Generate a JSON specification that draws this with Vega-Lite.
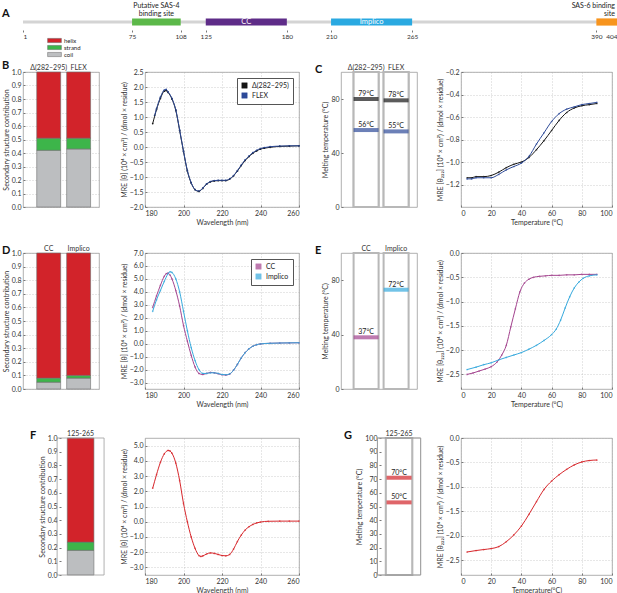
{
  "$schema": "https://vega.github.io/schema/vega-lite/v6.json",
  "padding": {"left": 1, "top": 2, "right": 0, "bottom": 0},
  "columns": 7,
  "align": "each",
  "bounds": "flush",
  "spacing": {"row": 46, "column": 0},
  "resolve": {"scale": {"color": "independent"}, "legend": {"color": "independent"}},
  "config": {
    "font": "Lato",
    "view": {"stroke": "#9c9c9c", "strokeWidth": 0.8},
    "title": {"fontSize": 11, "fontWeight": "bold", "anchor": "start", "frame": "group", "color": "#111", "offset": 0},
    "axis": {"labelFontSize": 7, "titleFontSize": 7, "titleFontWeight": "normal", "labelColor": "#333", "titleColor": "#333", "domain": false, "tickColor": "#777", "tickSize": -2, "labelPadding": 4, "titlePadding": 2, "labelOverlap": false, "gridDash": [1, 2], "gridColor": "#b0b0b0", "gridWidth": 0.6},
    "legend": {"labelFontSize": 7, "labelColor": "#222"}
  },
  "concat": [
    {
      "width": 76,
      "height": 8,
      "view": {"stroke": null},
      "title": {"text": "A", "dx": -21, "dy": 21},
      "data": {"values": [
        {"domain": "Putative SAS-4 binding site", "start": 75, "end": 108, "inside": "", "above": "Putative SAS-4\nbinding site"},
        {"domain": "CC", "start": 125, "end": 180, "inside": "CC", "above": ""},
        {"domain": "Implico", "start": 210, "end": 265, "inside": "Implico", "above": ""},
        {"domain": "SAS-6 binding site", "start": 390, "end": 404, "inside": "", "above": "SAS-6 binding\nsite"}
      ]},
      "encoding": {
        "x": {"field": "start", "type": "quantitative", "scale": {"domain": [1, 404], "range": [0, 594], "nice": false, "zero": false},
          "axis": {"title": null, "values": [1, 75, 108, 125, 180, 210, 265, 390, 404], "grid": false, "tickSize": 2, "offset": 4, "labelPadding": 1, "labelFontSize": 6.5, "labelOverlap": false, "labelFlush": true}}
      },
      "layer": [
        {"data": {"values": [{"start": 1, "end": 404}]}, "mark": {"type": "rule", "color": "#d4d4d4", "strokeWidth": 3}, "encoding": {"x2": {"field": "end"}}},
        {"mark": {"type": "bar"}, "encoding": {"x2": {"field": "end"},
          "color": {"field": "domain", "type": "nominal", "scale": {"domain": ["Putative SAS-4 binding site", "CC", "Implico", "SAS-6 binding site"], "range": ["#5cb849", "#5e2c88", "#2aa9e1", "#f7941d"]}, "legend": null}}},
        {"transform": [{"filter": {"field": "inside", "oneOf": ["CC", "Implico"]}}, {"fold": ["start", "end"], "as": ["edge", "residue"]}, {"aggregate": [{"op": "mean", "field": "residue", "as": "mid"}], "groupby": ["inside"]}],
          "mark": {"type": "text", "color": "white", "fontSize": 7.5},
          "encoding": {"x": {"field": "mid", "type": "quantitative"}, "text": {"field": "inside"}}},
        {"transform": [{"filter": {"field": "domain", "equal": "Putative SAS-4 binding site"}}, {"fold": ["start", "end"], "as": ["edge", "residue"]}, {"aggregate": [{"op": "mean", "field": "residue", "as": "mid"}], "groupby": ["above"]}],
          "mark": {"type": "text", "fontSize": 7, "lineBreak": "\n", "lineHeight": 8, "baseline": "top", "dy": -20, "color": "#222"},
          "encoding": {"x": {"field": "mid", "type": "quantitative"}, "text": {"field": "above"}}},
        {"transform": [{"filter": {"field": "domain", "equal": "SAS-6 binding site"}}],
          "mark": {"type": "text", "fontSize": 7, "lineBreak": "\n", "lineHeight": 8, "baseline": "top", "dy": -20, "dx": -2, "align": "right", "color": "#222"},
          "encoding": {"x": {"field": "end", "type": "quantitative"}, "text": {"field": "above"}}}
      ]
    },
    {"width": 1, "height": 8, "view": {"stroke": null}, "data": {"values": [{}]}, "mark": "text", "encoding": {"text": {"value": ""}}},
    {"width": 1, "height": 8, "view": {"stroke": null}, "data": {"values": [{}]}, "mark": "text", "encoding": {"text": {"value": ""}}},
    {"width": 1, "height": 8, "view": {"stroke": null}, "data": {"values": [{}]}, "mark": "text", "encoding": {"text": {"value": ""}}},
    {"width": 1, "height": 8, "view": {"stroke": null}, "data": {"values": [{}]}, "mark": "text", "encoding": {"text": {"value": ""}}},
    {"width": 1, "height": 8, "view": {"stroke": null}, "data": {"values": [{}]}, "mark": "text", "encoding": {"text": {"value": ""}}},
    {"width": 1, "height": 8, "view": {"stroke": null}, "data": {"values": [{}]}, "mark": "text", "encoding": {"text": {"value": ""}}},

    {
      "width": 76,
      "height": 135,
      "title": {"text": "B", "dx": -21, "dy": 38},
      "data": {"values": [
        {"construct": "Δ(282–295)", "structure": "coil", "fraction": 0.42, "level": 1},
        {"construct": "Δ(282–295)", "structure": "strand", "fraction": 0.09, "level": 2},
        {"construct": "Δ(282–295)", "structure": "helix", "fraction": 0.49, "level": 3},
        {"construct": "FLEX", "structure": "coil", "fraction": 0.43, "level": 1},
        {"construct": "FLEX", "structure": "strand", "fraction": 0.08, "level": 2},
        {"construct": "FLEX", "structure": "helix", "fraction": 0.49, "level": 3}
      ]},
      "mark": {"type": "bar", "stroke": "#6e6e6e", "strokeWidth": 0.6},
      "encoding": {
        "x": {"field": "construct", "type": "nominal", "sort": ["Δ(282–295)", "FLEX"], "scale": {"paddingInner": 0.2, "paddingOuter": 0.37, "align": 0.62},
          "axis": {"orient": "top", "title": null, "labelAngle": 0, "ticks": false, "labelPadding": 2, "grid": false}},
        "y": {"field": "fraction", "type": "quantitative", "stack": "zero", "scale": {"domain": [0, 1], "nice": false},
          "axis": {"title": "Secondary structure contribution", "values": [0, 0.1, 0.2, 0.3, 0.4, 0.5, 0.6, 0.7, 0.8, 0.9, 1], "format": ".1f"}},
        "color": {"field": "structure", "type": "nominal", "scale": {"domain": ["helix", "strand", "coil"], "range": ["#d2232a", "#3db54a", "#bcbec0"]},
          "legend": {"orient": "none", "legendX": 28, "legendY": -35, "title": null, "symbolType": "M-2.3,-0.7H2.3V0.7H-2.3Z", "symbolSize": 36, "symbolStrokeColor": "#666", "symbolStrokeWidth": 0.5, "labelFontSize": 6, "labelOffset": 6, "rowPadding": 0, "padding": 0}},
        "order": {"field": "level", "type": "quantitative", "sort": "ascending"}
      }
    },
    {"width": 42, "height": 135, "view": {"stroke": null}, "data": {"values": [{}]}, "mark": "text", "encoding": {"text": {"value": ""}}},
    {
      "width": 154,
      "height": 135,
      "data": {"values": [
        {"wl": 184, "mre": 0.78, "construct": "Δ(282–295)"}, {"wl": 186, "mre": 1.25, "construct": "Δ(282–295)"}, {"wl": 188, "mre": 1.62, "construct": "Δ(282–295)"}, {"wl": 190, "mre": 1.86, "construct": "Δ(282–295)"}, {"wl": 191, "mre": 1.88, "construct": "Δ(282–295)"}, {"wl": 192, "mre": 1.82, "construct": "Δ(282–295)"}, {"wl": 194, "mre": 1.6, "construct": "Δ(282–295)"}, {"wl": 196, "mre": 1.22, "construct": "Δ(282–295)"}, {"wl": 198, "mre": 0.55, "construct": "Δ(282–295)"}, {"wl": 200, "mre": -0.15, "construct": "Δ(282–295)"}, {"wl": 202, "mre": -0.8, "construct": "Δ(282–295)"}, {"wl": 204, "mre": -1.2, "construct": "Δ(282–295)"}, {"wl": 206, "mre": -1.42, "construct": "Δ(282–295)"}, {"wl": 208, "mre": -1.48, "construct": "Δ(282–295)"}, {"wl": 210, "mre": -1.38, "construct": "Δ(282–295)"}, {"wl": 212, "mre": -1.24, "construct": "Δ(282–295)"}, {"wl": 214, "mre": -1.16, "construct": "Δ(282–295)"}, {"wl": 216, "mre": -1.13, "construct": "Δ(282–295)"}, {"wl": 218, "mre": -1.12, "construct": "Δ(282–295)"}, {"wl": 220, "mre": -1.12, "construct": "Δ(282–295)"}, {"wl": 222, "mre": -1.12, "construct": "Δ(282–295)"}, {"wl": 224, "mre": -1.07, "construct": "Δ(282–295)"}, {"wl": 226, "mre": -0.96, "construct": "Δ(282–295)"}, {"wl": 228, "mre": -0.8, "construct": "Δ(282–295)"}, {"wl": 230, "mre": -0.62, "construct": "Δ(282–295)"}, {"wl": 232, "mre": -0.45, "construct": "Δ(282–295)"}, {"wl": 234, "mre": -0.32, "construct": "Δ(282–295)"}, {"wl": 236, "mre": -0.21, "construct": "Δ(282–295)"}, {"wl": 238, "mre": -0.13, "construct": "Δ(282–295)"}, {"wl": 240, "mre": -0.07, "construct": "Δ(282–295)"}, {"wl": 242, "mre": -0.04, "construct": "Δ(282–295)"}, {"wl": 245, "mre": -0.01, "construct": "Δ(282–295)"}, {"wl": 250, "mre": 0.02, "construct": "Δ(282–295)"}, {"wl": 255, "mre": 0.03, "construct": "Δ(282–295)"}, {"wl": 260, "mre": 0.04, "construct": "Δ(282–295)"},
        {"wl": 185, "mre": 1.05, "construct": "FLEX"}, {"wl": 186, "mre": 1.28, "construct": "FLEX"}, {"wl": 188, "mre": 1.66, "construct": "FLEX"}, {"wl": 190, "mre": 1.9, "construct": "FLEX"}, {"wl": 191, "mre": 1.92, "construct": "FLEX"}, {"wl": 192, "mre": 1.84, "construct": "FLEX"}, {"wl": 194, "mre": 1.62, "construct": "FLEX"}, {"wl": 196, "mre": 1.24, "construct": "FLEX"}, {"wl": 198, "mre": 0.57, "construct": "FLEX"}, {"wl": 200, "mre": -0.13, "construct": "FLEX"}, {"wl": 202, "mre": -0.78, "construct": "FLEX"}, {"wl": 204, "mre": -1.19, "construct": "FLEX"}, {"wl": 206, "mre": -1.42, "construct": "FLEX"}, {"wl": 208, "mre": -1.47, "construct": "FLEX"}, {"wl": 210, "mre": -1.37, "construct": "FLEX"}, {"wl": 212, "mre": -1.23, "construct": "FLEX"}, {"wl": 214, "mre": -1.15, "construct": "FLEX"}, {"wl": 216, "mre": -1.12, "construct": "FLEX"}, {"wl": 218, "mre": -1.11, "construct": "FLEX"}, {"wl": 220, "mre": -1.11, "construct": "FLEX"}, {"wl": 222, "mre": -1.11, "construct": "FLEX"}, {"wl": 224, "mre": -1.06, "construct": "FLEX"}, {"wl": 226, "mre": -0.95, "construct": "FLEX"}, {"wl": 228, "mre": -0.79, "construct": "FLEX"}, {"wl": 230, "mre": -0.6, "construct": "FLEX"}, {"wl": 232, "mre": -0.43, "construct": "FLEX"}, {"wl": 234, "mre": -0.3, "construct": "FLEX"}, {"wl": 236, "mre": -0.19, "construct": "FLEX"}, {"wl": 238, "mre": -0.11, "construct": "FLEX"}, {"wl": 240, "mre": -0.05, "construct": "FLEX"}, {"wl": 242, "mre": -0.02, "construct": "FLEX"}, {"wl": 245, "mre": 0.01, "construct": "FLEX"}, {"wl": 250, "mre": 0.03, "construct": "FLEX"}, {"wl": 255, "mre": 0.04, "construct": "FLEX"}, {"wl": 260, "mre": 0.04, "construct": "FLEX"}
      ]},
      "encoding": {
        "x": {"field": "wl", "type": "quantitative", "scale": {"domain": [180, 260], "nice": false, "zero": false}, "axis": {"title": "Wavelength (nm)", "values": [180, 200, 220, 240, 260]}},
        "y": {"field": "mre", "type": "quantitative", "scale": {"domain": [-2, 2.5], "nice": false, "zero": false}, "axis": {"title": "MRE [θ] (10⁴ × cm²) / (dmol × residue)", "values": [-2, -1.5, -1, -0.5, 0, 0.5, 1, 1.5, 2, 2.5], "format": ".1f"}},
        "color": {"field": "construct", "type": "nominal", "scale": {"domain": ["Δ(282–295)", "FLEX"], "range": ["#151515", "#2d4a98"]},
          "legend": {"orient": "top-right", "title": null, "offset": 6, "padding": 4, "strokeColor": "#555", "fillColor": "white", "symbolType": "square", "symbolSize": 30, "symbolStrokeColor": "#333", "symbolStrokeWidth": 0.4, "rowPadding": 1, "labelFontSize": 7}}
      },
      "layer": [
        {"mark": {"type": "point", "filled": true, "size": 3, "opacity": 1}},
        {"mark": {"type": "line", "strokeWidth": 1, "interpolate": "monotone"}}
      ]
    },
    {"width": 42, "height": 135, "view": {"stroke": null}, "data": {"values": [{}]}, "mark": "text", "encoding": {"text": {"value": ""}}},
    {
      "width": 76,
      "height": 135,
      "title": {"text": "C", "dx": -26, "dy": 16},
      "data": {"values": [
        {"construct": "Δ(282–295)", "transition": "upper", "tm": 80, "label": "79°C"},
        {"construct": "Δ(282–295)", "transition": "lower", "tm": 57, "label": "56°C"},
        {"construct": "FLEX", "transition": "upper", "tm": 79, "label": "78°C"},
        {"construct": "FLEX", "transition": "lower", "tm": 56, "label": "55°C"}
      ]},
      "encoding": {
        "x": {"field": "construct", "type": "nominal", "sort": ["Δ(282–295)", "FLEX"], "scale": {"paddingInner": 0.1667, "paddingOuter": 0.35, "align": 0.6},
          "axis": {"orient": "top", "title": null, "labelAngle": 0, "ticks": false, "labelPadding": 2, "grid": false}}
      },
      "layer": [
        {"mark": {"type": "bar", "fill": "white", "stroke": "#b8b8b8", "strokeWidth": 2},
          "encoding": {"y": {"datum": 100, "type": "quantitative", "scale": {"domain": [0, 100], "nice": false},
            "axis": {"title": "Melting temperature (°C)", "values": [0, 10, 20, 30, 40, 50, 60, 70, 80, 90, 100]}}}},
        {"mark": {"type": "tick", "thickness": 4, "size": 25},
          "encoding": {"y": {"field": "tm", "type": "quantitative"}, "color": {"field": "transition", "type": "nominal", "scale": {"domain": ["upper", "lower"], "range": ["#151515", "#2d4a98"]}, "legend": null}}},
        {"mark": {"type": "text", "fontSize": 7, "baseline": "bottom", "dy": -2, "color": "#222"},
          "encoding": {"y": {"field": "tm", "type": "quantitative"}, "text": {"field": "label"}}}
      ]
    },
    {"width": 41, "height": 135, "view": {"stroke": null}, "data": {"values": [{}]}, "mark": "text", "encoding": {"text": {"value": ""}}},
    {
      "width": 151,
      "height": 135,
      "data": {"values": [
        {"t": 4, "mre": -1.14, "construct": "Δ(282–295)"}, {"t": 7, "mre": -1.14, "construct": "Δ(282–295)"}, {"t": 10, "mre": -1.13, "construct": "Δ(282–295)"}, {"t": 15, "mre": -1.13, "construct": "Δ(282–295)"}, {"t": 20, "mre": -1.12, "construct": "Δ(282–295)"}, {"t": 25, "mre": -1.09, "construct": "Δ(282–295)"}, {"t": 30, "mre": -1.05, "construct": "Δ(282–295)"}, {"t": 35, "mre": -1.02, "construct": "Δ(282–295)"}, {"t": 40, "mre": -1.0, "construct": "Δ(282–295)"}, {"t": 45, "mre": -0.96, "construct": "Δ(282–295)"}, {"t": 50, "mre": -0.89, "construct": "Δ(282–295)"}, {"t": 55, "mre": -0.81, "construct": "Δ(282–295)"}, {"t": 60, "mre": -0.72, "construct": "Δ(282–295)"}, {"t": 65, "mre": -0.63, "construct": "Δ(282–295)"}, {"t": 70, "mre": -0.56, "construct": "Δ(282–295)"}, {"t": 75, "mre": -0.52, "construct": "Δ(282–295)"}, {"t": 80, "mre": -0.5, "construct": "Δ(282–295)"}, {"t": 85, "mre": -0.49, "construct": "Δ(282–295)"}, {"t": 90, "mre": -0.48, "construct": "Δ(282–295)"},
        {"t": 4, "mre": -1.15, "construct": "FLEX"}, {"t": 7, "mre": -1.15, "construct": "FLEX"}, {"t": 10, "mre": -1.14, "construct": "FLEX"}, {"t": 15, "mre": -1.14, "construct": "FLEX"}, {"t": 20, "mre": -1.14, "construct": "FLEX"}, {"t": 25, "mre": -1.11, "construct": "FLEX"}, {"t": 30, "mre": -1.07, "construct": "FLEX"}, {"t": 35, "mre": -1.04, "construct": "FLEX"}, {"t": 40, "mre": -1.01, "construct": "FLEX"}, {"t": 45, "mre": -0.95, "construct": "FLEX"}, {"t": 50, "mre": -0.84, "construct": "FLEX"}, {"t": 55, "mre": -0.74, "construct": "FLEX"}, {"t": 60, "mre": -0.64, "construct": "FLEX"}, {"t": 65, "mre": -0.57, "construct": "FLEX"}, {"t": 70, "mre": -0.53, "construct": "FLEX"}, {"t": 75, "mre": -0.51, "construct": "FLEX"}, {"t": 80, "mre": -0.49, "construct": "FLEX"}, {"t": 85, "mre": -0.48, "construct": "FLEX"}, {"t": 90, "mre": -0.47, "construct": "FLEX"}
      ]},
      "encoding": {
        "x": {"field": "t", "type": "quantitative", "scale": {"domain": [0, 100], "nice": false}, "axis": {"title": "Temperature (°C)", "values": [0, 20, 40, 60, 80, 100]}},
        "y": {"field": "mre", "type": "quantitative", "scale": {"domain": [-1.4, -0.2], "nice": false, "zero": false}, "axis": {"title": "MRE [θ₂₂₂] (10⁴ × cm²) / (dmol × residue)", "values": [-1.2, -1, -0.8, -0.6, -0.4, -0.2], "format": ".1f"}},
        "color": {"field": "construct", "type": "nominal", "scale": {"domain": ["Δ(282–295)", "FLEX"], "range": ["#151515", "#2d4a98"]}, "legend": null}
      },
      "layer": [
        {"mark": {"type": "point", "filled": true, "size": 3}},
        {"mark": {"type": "line", "strokeWidth": 1, "interpolate": "monotone"}}
      ]
    },

    {
      "width": 76,
      "height": 136,
      "title": {"text": "D", "dx": -21, "dy": 16},
      "data": {"values": [
        {"construct": "CC", "structure": "coil", "fraction": 0.05, "level": 1},
        {"construct": "CC", "structure": "strand", "fraction": 0.03, "level": 2},
        {"construct": "CC", "structure": "helix", "fraction": 0.92, "level": 3},
        {"construct": "Implico", "structure": "coil", "fraction": 0.08, "level": 1},
        {"construct": "Implico", "structure": "strand", "fraction": 0.02, "level": 2},
        {"construct": "Implico", "structure": "helix", "fraction": 0.9, "level": 3}
      ]},
      "mark": {"type": "bar", "stroke": "#6e6e6e", "strokeWidth": 0.6},
      "encoding": {
        "x": {"field": "construct", "type": "nominal", "sort": ["CC", "Implico"], "scale": {"paddingInner": 0.2, "paddingOuter": 0.37, "align": 0.62},
          "axis": {"orient": "top", "title": null, "labelAngle": 0, "ticks": false, "labelPadding": 2, "grid": false}},
        "y": {"field": "fraction", "type": "quantitative", "stack": "zero", "scale": {"domain": [0, 1], "nice": false},
          "axis": {"title": "Secondary structure contribution", "values": [0, 0.1, 0.2, 0.3, 0.4, 0.5, 0.6, 0.7, 0.8, 0.9, 1], "format": ".1f"}},
        "color": {"field": "structure", "type": "nominal", "scale": {"domain": ["helix", "strand", "coil"], "range": ["#d2232a", "#3db54a", "#bcbec0"]}, "legend": null},
        "order": {"field": "level", "type": "quantitative", "sort": "ascending"}
      }
    },
    {"width": 42, "height": 139, "view": {"stroke": null}, "data": {"values": [{}]}, "mark": "text", "encoding": {"text": {"value": ""}}},
    {
      "width": 154,
      "height": 136,
      "data": {"values": [
        {"wl": 184, "mre": 2.8, "construct": "CC"}, {"wl": 186, "mre": 3.7, "construct": "CC"}, {"wl": 188, "mre": 4.5, "construct": "CC"}, {"wl": 190, "mre": 5.2, "construct": "CC"}, {"wl": 191, "mre": 5.4, "construct": "CC"}, {"wl": 192, "mre": 5.45, "construct": "CC"}, {"wl": 193, "mre": 5.3, "construct": "CC"}, {"wl": 194, "mre": 5.0, "construct": "CC"}, {"wl": 196, "mre": 4.1, "construct": "CC"}, {"wl": 198, "mre": 2.9, "construct": "CC"}, {"wl": 200, "mre": 1.4, "construct": "CC"}, {"wl": 202, "mre": 0.2, "construct": "CC"}, {"wl": 204, "mre": -0.9, "construct": "CC"}, {"wl": 206, "mre": -1.8, "construct": "CC"}, {"wl": 208, "mre": -2.3, "construct": "CC"}, {"wl": 210, "mre": -2.38, "construct": "CC"}, {"wl": 212, "mre": -2.3, "construct": "CC"}, {"wl": 214, "mre": -2.22, "construct": "CC"}, {"wl": 216, "mre": -2.25, "construct": "CC"}, {"wl": 218, "mre": -2.32, "construct": "CC"}, {"wl": 220, "mre": -2.4, "construct": "CC"}, {"wl": 222, "mre": -2.42, "construct": "CC"}, {"wl": 224, "mre": -2.35, "construct": "CC"}, {"wl": 226, "mre": -2.05, "construct": "CC"}, {"wl": 228, "mre": -1.6, "construct": "CC"}, {"wl": 230, "mre": -1.1, "construct": "CC"}, {"wl": 232, "mre": -0.7, "construct": "CC"}, {"wl": 234, "mre": -0.4, "construct": "CC"}, {"wl": 236, "mre": -0.2, "construct": "CC"}, {"wl": 238, "mre": -0.08, "construct": "CC"}, {"wl": 240, "mre": -0.02, "construct": "CC"}, {"wl": 245, "mre": 0.03, "construct": "CC"}, {"wl": 250, "mre": 0.05, "construct": "CC"}, {"wl": 255, "mre": 0.06, "construct": "CC"}, {"wl": 260, "mre": 0.07, "construct": "CC"},
        {"wl": 184, "mre": 2.5, "construct": "Implico"}, {"wl": 186, "mre": 3.4, "construct": "Implico"}, {"wl": 188, "mre": 4.1, "construct": "Implico"}, {"wl": 190, "mre": 4.8, "construct": "Implico"}, {"wl": 192, "mre": 5.4, "construct": "Implico"}, {"wl": 193, "mre": 5.55, "construct": "Implico"}, {"wl": 194, "mre": 5.5, "construct": "Implico"}, {"wl": 196, "mre": 5.0, "construct": "Implico"}, {"wl": 198, "mre": 4.0, "construct": "Implico"}, {"wl": 200, "mre": 2.5, "construct": "Implico"}, {"wl": 202, "mre": 1.0, "construct": "Implico"}, {"wl": 204, "mre": -0.3, "construct": "Implico"}, {"wl": 206, "mre": -1.3, "construct": "Implico"}, {"wl": 208, "mre": -2.0, "construct": "Implico"}, {"wl": 210, "mre": -2.3, "construct": "Implico"}, {"wl": 212, "mre": -2.3, "construct": "Implico"}, {"wl": 214, "mre": -2.25, "construct": "Implico"}, {"wl": 216, "mre": -2.25, "construct": "Implico"}, {"wl": 218, "mre": -2.3, "construct": "Implico"}, {"wl": 220, "mre": -2.38, "construct": "Implico"}, {"wl": 222, "mre": -2.4, "construct": "Implico"}, {"wl": 224, "mre": -2.33, "construct": "Implico"}, {"wl": 226, "mre": -2.05, "construct": "Implico"}, {"wl": 228, "mre": -1.6, "construct": "Implico"}, {"wl": 230, "mre": -1.1, "construct": "Implico"}, {"wl": 232, "mre": -0.7, "construct": "Implico"}, {"wl": 234, "mre": -0.4, "construct": "Implico"}, {"wl": 236, "mre": -0.2, "construct": "Implico"}, {"wl": 238, "mre": -0.08, "construct": "Implico"}, {"wl": 240, "mre": -0.02, "construct": "Implico"}, {"wl": 245, "mre": 0.03, "construct": "Implico"}, {"wl": 250, "mre": 0.05, "construct": "Implico"}, {"wl": 255, "mre": 0.06, "construct": "Implico"}, {"wl": 260, "mre": 0.07, "construct": "Implico"}
      ]},
      "encoding": {
        "x": {"field": "wl", "type": "quantitative", "scale": {"domain": [180, 260], "nice": false, "zero": false}, "axis": {"title": "Wavelength (nm)", "values": [180, 200, 220, 240, 260]}},
        "y": {"field": "mre", "type": "quantitative", "scale": {"domain": [-3.5, 7], "nice": false, "zero": false}, "axis": {"title": "MRE [θ] (10⁴ × cm²) / (dmol × residue)", "values": [-3, -2, -1, 0, 1, 2, 3, 4, 5, 6, 7], "format": ".1f"}},
        "color": {"field": "construct", "type": "nominal", "scale": {"domain": ["CC", "Implico"], "range": ["#a3438e", "#36a9dd"]},
          "legend": {"orient": "top-right", "title": null, "offset": 6, "padding": 4, "strokeColor": "#555", "fillColor": "white", "symbolType": "square", "symbolSize": 30, "symbolStrokeColor": "#333", "symbolStrokeWidth": 0.4, "rowPadding": 1, "labelFontSize": 7}}
      },
      "layer": [
        {"mark": {"type": "point", "filled": true, "size": 3}},
        {"mark": {"type": "line", "strokeWidth": 1, "interpolate": "monotone"}}
      ]
    },
    {"width": 42, "height": 139, "view": {"stroke": null}, "data": {"values": [{}]}, "mark": "text", "encoding": {"text": {"value": ""}}},
    {
      "width": 76,
      "height": 136,
      "title": {"text": "E", "dx": -26, "dy": 16},
      "data": {"values": [
        {"construct": "CC", "tm": 38, "label": "37°C"},
        {"construct": "Implico", "tm": 73, "label": "72°C"}
      ]},
      "encoding": {
        "x": {"field": "construct", "type": "nominal", "sort": ["CC", "Implico"], "scale": {"paddingInner": 0.1667, "paddingOuter": 0.35, "align": 0.6},
          "axis": {"orient": "top", "title": null, "labelAngle": 0, "ticks": false, "labelPadding": 2, "grid": false}}
      },
      "layer": [
        {"mark": {"type": "bar", "fill": "white", "stroke": "#b8b8b8", "strokeWidth": 2},
          "encoding": {"y": {"datum": 100, "type": "quantitative", "scale": {"domain": [0, 100], "nice": false},
            "axis": {"title": "Melting temperature (°C)", "values": [0, 10, 20, 30, 40, 50, 60, 70, 80, 90, 100]}}}},
        {"mark": {"type": "tick", "thickness": 4, "size": 25},
          "encoding": {"y": {"field": "tm", "type": "quantitative"}, "color": {"field": "construct", "type": "nominal", "scale": {"domain": ["CC", "Implico"], "range": ["#a3438e", "#36a9dd"]}, "legend": null}}},
        {"mark": {"type": "text", "fontSize": 7, "baseline": "bottom", "dy": -2, "color": "#222"},
          "encoding": {"y": {"field": "tm", "type": "quantitative"}, "text": {"field": "label"}}}
      ]
    },
    {"width": 41, "height": 139, "view": {"stroke": null}, "data": {"values": [{}]}, "mark": "text", "encoding": {"text": {"value": ""}}},
    {
      "width": 151,
      "height": 136,
      "data": {"values": [
        {"t": 4, "mre": -2.5, "construct": "CC"}, {"t": 8, "mre": -2.47, "construct": "CC"}, {"t": 12, "mre": -2.43, "construct": "CC"}, {"t": 16, "mre": -2.39, "construct": "CC"}, {"t": 20, "mre": -2.34, "construct": "CC"}, {"t": 24, "mre": -2.24, "construct": "CC"}, {"t": 27, "mre": -2.1, "construct": "CC"}, {"t": 30, "mre": -1.9, "construct": "CC"}, {"t": 33, "mre": -1.52, "construct": "CC"}, {"t": 36, "mre": -1.15, "construct": "CC"}, {"t": 39, "mre": -0.8, "construct": "CC"}, {"t": 42, "mre": -0.62, "construct": "CC"}, {"t": 45, "mre": -0.54, "construct": "CC"}, {"t": 48, "mre": -0.5, "construct": "CC"}, {"t": 52, "mre": -0.48, "construct": "CC"}, {"t": 56, "mre": -0.47, "construct": "CC"}, {"t": 60, "mre": -0.46, "construct": "CC"}, {"t": 65, "mre": -0.46, "construct": "CC"}, {"t": 70, "mre": -0.45, "construct": "CC"}, {"t": 75, "mre": -0.45, "construct": "CC"}, {"t": 80, "mre": -0.44, "construct": "CC"}, {"t": 85, "mre": -0.44, "construct": "CC"}, {"t": 90, "mre": -0.44, "construct": "CC"},
        {"t": 4, "mre": -2.4, "construct": "Implico"}, {"t": 10, "mre": -2.35, "construct": "Implico"}, {"t": 15, "mre": -2.3, "construct": "Implico"}, {"t": 20, "mre": -2.26, "construct": "Implico"}, {"t": 25, "mre": -2.2, "construct": "Implico"}, {"t": 30, "mre": -2.15, "construct": "Implico"}, {"t": 35, "mre": -2.1, "construct": "Implico"}, {"t": 40, "mre": -2.05, "construct": "Implico"}, {"t": 45, "mre": -1.98, "construct": "Implico"}, {"t": 50, "mre": -1.9, "construct": "Implico"}, {"t": 55, "mre": -1.8, "construct": "Implico"}, {"t": 60, "mre": -1.68, "construct": "Implico"}, {"t": 63, "mre": -1.57, "construct": "Implico"}, {"t": 66, "mre": -1.38, "construct": "Implico"}, {"t": 69, "mre": -1.13, "construct": "Implico"}, {"t": 72, "mre": -0.9, "construct": "Implico"}, {"t": 75, "mre": -0.72, "construct": "Implico"}, {"t": 78, "mre": -0.6, "construct": "Implico"}, {"t": 81, "mre": -0.52, "construct": "Implico"}, {"t": 85, "mre": -0.47, "construct": "Implico"}, {"t": 90, "mre": -0.45, "construct": "Implico"}
      ]},
      "encoding": {
        "x": {"field": "t", "type": "quantitative", "scale": {"domain": [0, 100], "nice": false}, "axis": {"title": "Temperature (°C)", "values": [0, 20, 40, 60, 80, 100]}},
        "y": {"field": "mre", "type": "quantitative", "scale": {"domain": [-2.8, 0], "nice": false, "zero": false}, "axis": {"title": "MRE [θ₂₂₂] (10⁴ × cm²) / (dmol × residue)", "values": [-2.5, -2, -1.5, -1, -0.5, 0], "format": ".1f"}},
        "color": {"field": "construct", "type": "nominal", "scale": {"domain": ["CC", "Implico"], "range": ["#a3438e", "#36a9dd"]}, "legend": null}
      },
      "layer": [
        {"mark": {"type": "point", "filled": true, "size": 3}},
        {"mark": {"type": "line", "strokeWidth": 1, "interpolate": "monotone"}}
      ]
    },

    {
      "width": 80,
      "height": 137,
      "view": {"stroke": null},
      "title": {"text": "F", "dx": 7, "dy": 16},
      "data": {"values": [
        {"construct": "125-265", "structure": "coil", "fraction": 0.18, "level": 1},
        {"construct": "125-265", "structure": "strand", "fraction": 0.06, "level": 2},
        {"construct": "125-265", "structure": "helix", "fraction": 0.76, "level": 3}
      ]},
      "encoding": {
        "x": {"field": "construct", "type": "nominal", "scale": {"paddingInner": 0, "paddingOuter": 1.1, "align": 0.83},
          "axis": {"orient": "top", "title": null, "labelAngle": 0, "ticks": false, "labelPadding": 2, "grid": false}}
      },
      "layer": [
        {"mark": {"type": "bar", "stroke": "#6e6e6e", "strokeWidth": 0.6},
          "encoding": {
            "y": {"field": "fraction", "type": "quantitative", "stack": "zero", "scale": {"domain": [0, 1], "nice": false},
              "axis": {"title": "Secondary structure contribution", "values": [0, 0.1, 0.2, 0.3, 0.4, 0.5, 0.6, 0.7, 0.8, 0.9, 1], "format": ".1f", "offset": -36, "grid": false, "labelOverlap": false}},
            "color": {"field": "structure", "type": "nominal", "scale": {"domain": ["helix", "strand", "coil"], "range": ["#d2232a", "#3db54a", "#bcbec0"]}, "legend": null},
            "order": {"field": "level", "type": "quantitative", "sort": "ascending"}
          }},
        {"transform": [{"filter": {"field": "level", "equal": 3}}],
          "mark": {"type": "bar", "filled": false, "stroke": "#9c9c9c", "strokeWidth": 0.8, "width": {"band": 1.76}},
          "encoding": {"y": {"datum": 1, "type": "quantitative",
            "axis": {"title": "Secondary structure contribution", "values": [0, 0.1, 0.2, 0.3, 0.4, 0.5, 0.6, 0.7, 0.8, 0.9, 1], "format": ".1f", "offset": -36, "grid": false, "labelOverlap": false}}}}
      ]
    },
    {"width": 42, "height": 137, "view": {"stroke": null}, "data": {"values": [{}]}, "mark": "text", "encoding": {"text": {"value": ""}}},
    {
      "width": 154,
      "height": 137,
      "data": {"values": [
        {"wl": 184, "mre": 2.2}, {"wl": 186, "mre": 3.1}, {"wl": 188, "mre": 3.9}, {"wl": 190, "mre": 4.45}, {"wl": 192, "mre": 4.68}, {"wl": 193, "mre": 4.65}, {"wl": 194, "mre": 4.5}, {"wl": 196, "mre": 3.85}, {"wl": 198, "mre": 2.7}, {"wl": 200, "mre": 1.2}, {"wl": 202, "mre": 0.0}, {"wl": 204, "mre": -1.0}, {"wl": 206, "mre": -1.75}, {"wl": 208, "mre": -2.22}, {"wl": 209, "mre": -2.28}, {"wl": 210, "mre": -2.25}, {"wl": 212, "mre": -2.12}, {"wl": 214, "mre": -2.05}, {"wl": 216, "mre": -2.08}, {"wl": 218, "mre": -2.15}, {"wl": 220, "mre": -2.22}, {"wl": 222, "mre": -2.24}, {"wl": 224, "mre": -2.15}, {"wl": 226, "mre": -1.8}, {"wl": 228, "mre": -1.3}, {"wl": 230, "mre": -0.88}, {"wl": 232, "mre": -0.55}, {"wl": 234, "mre": -0.33}, {"wl": 236, "mre": -0.18}, {"wl": 238, "mre": -0.08}, {"wl": 240, "mre": -0.02}, {"wl": 244, "mre": 0.03}, {"wl": 250, "mre": 0.04}, {"wl": 255, "mre": 0.04}, {"wl": 260, "mre": 0.04}
      ]},
      "encoding": {
        "x": {"field": "wl", "type": "quantitative", "scale": {"domain": [180, 260], "nice": false, "zero": false}, "axis": {"title": "Wavelength (nm)", "values": [180, 200, 220, 240, 260]}},
        "y": {"field": "mre", "type": "quantitative", "scale": {"domain": [-3.5, 5.5], "nice": false, "zero": false}, "axis": {"title": "MRE [θ] (10⁴ × cm²) / (dmol × residue)", "values": [-3, -2, -1, 0, 1, 2, 3, 4, 5], "format": ".1f"}}
      },
      "layer": [
        {"mark": {"type": "point", "filled": true, "size": 3, "color": "#d7262b"}},
        {"mark": {"type": "line", "strokeWidth": 1, "interpolate": "monotone", "color": "#d7262b"}}
      ]
    },
    {"width": 42, "height": 137, "view": {"stroke": null}, "data": {"values": [{}]}, "mark": "text", "encoding": {"text": {"value": ""}}},
    {
      "width": 79,
      "height": 137,
      "view": {"stroke": null},
      "title": {"text": "G", "dx": 3, "dy": 16},
      "data": {"values": [
        {"construct": "125-265", "tm": 71, "label": "70°C"},
        {"construct": "125-265", "tm": 53, "label": "50°C"}
      ]},
      "encoding": {
        "x": {"field": "construct", "type": "nominal", "scale": {"paddingInner": 0, "paddingOuter": 1.08, "align": 0.852},
          "axis": {"orient": "top", "title": null, "labelAngle": 0, "ticks": false, "labelPadding": 2, "grid": false}}
      },
      "layer": [
        {"mark": {"type": "bar", "fill": "white", "stroke": "#b8b8b8", "strokeWidth": 2},
          "encoding": {"y": {"datum": 100, "type": "quantitative", "scale": {"domain": [0, 100], "nice": false},
            "axis": {"title": "Melting temperature (°C)", "values": [0, 10, 20, 30, 40, 50, 60, 70, 80, 90, 100], "offset": -38, "grid": false, "labelOverlap": false}}}},
        {"mark": {"type": "bar", "filled": false, "stroke": "#9c9c9c", "strokeWidth": 0.8, "width": {"band": 1.64}},
          "encoding": {"y": {"datum": 100, "type": "quantitative",
            "axis": {"title": "Melting temperature (°C)", "values": [0, 10, 20, 30, 40, 50, 60, 70, 80, 90, 100], "offset": -38, "grid": false, "labelOverlap": false}}}},
        {"mark": {"type": "tick", "thickness": 4, "size": 25, "color": "#d2232a"},
          "encoding": {"y": {"field": "tm", "type": "quantitative",
            "axis": {"title": "Melting temperature (°C)", "values": [0, 10, 20, 30, 40, 50, 60, 70, 80, 90, 100], "offset": -38, "grid": false, "labelOverlap": false}}}},
        {"mark": {"type": "text", "fontSize": 7, "baseline": "bottom", "dy": -2, "color": "#222"},
          "encoding": {"y": {"field": "tm", "type": "quantitative",
            "axis": {"title": "Melting temperature (°C)", "values": [0, 10, 20, 30, 40, 50, 60, 70, 80, 90, 100], "offset": -38, "grid": false, "labelOverlap": false}}, "text": {"field": "label"}}}
      ]
    },
    {"width": 41, "height": 137, "view": {"stroke": null}, "data": {"values": [{}]}, "mark": "text", "encoding": {"text": {"value": ""}}},
    {
      "width": 151,
      "height": 137,
      "data": {"values": [
        {"t": 4, "mre": -2.33}, {"t": 10, "mre": -2.3}, {"t": 15, "mre": -2.28}, {"t": 20, "mre": -2.26}, {"t": 25, "mre": -2.22}, {"t": 30, "mre": -2.12}, {"t": 35, "mre": -1.98}, {"t": 40, "mre": -1.8}, {"t": 45, "mre": -1.56}, {"t": 50, "mre": -1.3}, {"t": 55, "mre": -1.05}, {"t": 60, "mre": -0.88}, {"t": 65, "mre": -0.75}, {"t": 70, "mre": -0.64}, {"t": 75, "mre": -0.55}, {"t": 80, "mre": -0.49}, {"t": 85, "mre": -0.46}, {"t": 90, "mre": -0.45}
      ]},
      "encoding": {
        "x": {"field": "t", "type": "quantitative", "scale": {"domain": [0, 100], "nice": false}, "axis": {"title": "Temperature(°C)", "values": [0, 20, 40, 60, 80, 100]}},
        "y": {"field": "mre", "type": "quantitative", "scale": {"domain": [-2.8, 0], "nice": false, "zero": false}, "axis": {"title": "MRE [θ₂₂₂] (10⁴ × cm²) / (dmol × residue)", "values": [-2.5, -2, -1.5, -1, -0.5, 0], "format": ".1f"}}
      },
      "layer": [
        {"mark": {"type": "point", "filled": true, "size": 3, "color": "#d7262b"}},
        {"mark": {"type": "line", "strokeWidth": 1, "interpolate": "monotone", "color": "#d7262b"}}
      ]
    }
  ]
}
